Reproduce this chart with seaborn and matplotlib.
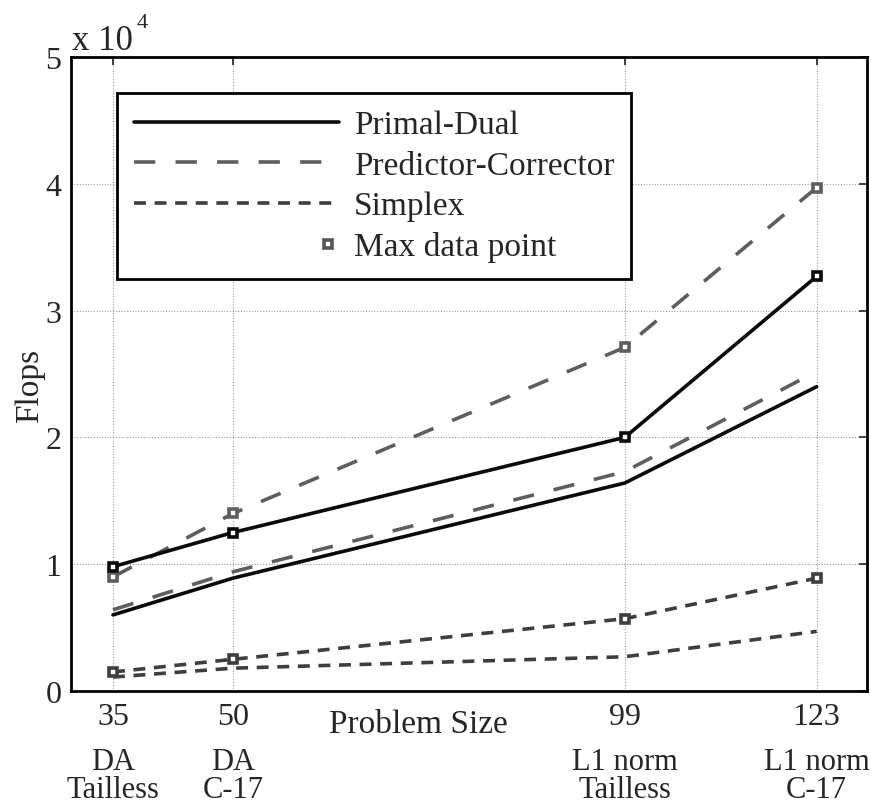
import matplotlib
matplotlib.use("Agg")
import matplotlib.pyplot as plt
import matplotlib.transforms as mtransforms
from matplotlib.lines import Line2D
from matplotlib.legend_handler import HandlerLine2D
import seaborn as sns
import pandas as pd

sizes = [35, 50, 99, 123]
problem_line1 = ["DA", "DA", "L1 norm", "L1 norm"]
problem_line2 = ["Tailless", "C-17", "Tailless", "C-17"]
pd_max = [9800, 12500, 20000, 32700]
pd_low = [6000, 8900, 16400, 24000]
pc_max = [9000, 14000, 27100, 39700]
pc_low = [6400, 9400, 17300, 25200]
sx_max = [1500, 2500, 5700, 8900]
sx_low = [1100, 1800, 2700, 4700]
yticks = [0, 1, 2, 3, 4, 5]

sns.set_style("white")
plt.rcParams["font.family"] = ["Liberation Serif", "DejaVu Serif"]

fig = plt.figure(figsize=(8.71, 8.04), dpi=100)
ax = fig.add_axes([71 / 871, 1 - 692 / 804, 796 / 871, 634 / 804])

c_pd = "#0a0a0a"
c_pc = "#5e5e5e"
c_sx = "#3e3e3e"
lw = 2.6
ls_pd = "-"
ls_pc = (0, (5.9, 5.6))
ls_sx = (0, (3.3, 2.4))
msize = 5.5
mew = 2.6

def draw(yvals, color, ls, marker):
    df = pd.DataFrame({"x": sizes, "y": [v / 1e4 for v in yvals]})
    kw = dict(marker="s", markersize=msize, markerfacecolor="white",
              markeredgecolor=color, markeredgewidth=mew) if marker else {}
    sns.lineplot(data=df, x="x", y="y", ax=ax, color=color, linestyle=ls,
                 linewidth=lw, legend=False, **kw)

draw(sx_low, c_sx, ls_sx, False)
draw(sx_max, c_sx, ls_sx, True)
draw(pc_low, c_pc, ls_pc, False)
draw(pd_low, c_pd, ls_pd, False)
draw(pc_max, c_pc, ls_pc, True)
draw(pd_max, c_pd, ls_pd, True)

ax.set_xlim(29.75, 129.3)
ax.set_ylim(0, 5)
ax.set_xticks(sizes)
ax.set_xticklabels([str(s) for s in sizes])
ax.set_yticks(yticks)
ax.set_yticklabels([str(t) for t in yticks])
ax.tick_params(direction="in", length=6, width=1.2, labelsize=23, top=True,
               right=True)
ax.tick_params(axis="x", pad=8)
ax.tick_params(axis="y", pad=7)
ax.grid(True, color="#9a9a9a", linestyle=(0, (1, 1.5)), linewidth=0.8)
for s in ax.spines.values():
    s.set_visible(True)
    s.set_linewidth(2)
    s.set_color("black")

ax.set_xlabel("")
ax.set_ylabel("")
fig.text(30 / 871, 1 - 386 / 804, "Flops", rotation=90, fontsize=24,
         ha="center", va="center")
trans = mtransforms.blended_transform_factory(ax.transData, ax.transAxes)
ax.text(62.0, -0.0647, "Problem Size", fontsize=24, ha="left", va="baseline",
        transform=trans)

for x, l1, l2 in zip(sizes, problem_line1, problem_line2):
    ax.text(x, -0.123, l1, transform=trans, fontsize=22, ha="center",
            va="baseline")
    ax.text(x, -0.167, l2, transform=trans, fontsize=22, ha="center",
            va="baseline")

ax.text(0.001, 1.0126, "x 10", transform=ax.transAxes, fontsize=25,
        ha="left", va="baseline")
ax.text(0.083, 1.0473, "4", transform=ax.transAxes, fontsize=16,
        ha="left", va="baseline")


class RightMarkerHandler(HandlerLine2D):
    def create_artists(self, legend, orig_handle, xdescent, ydescent, width,
                       height, fontsize, trans):
        artists = super().create_artists(legend, orig_handle, xdescent,
                                         ydescent, width, height, fontsize,
                                         trans)
        for a in artists:
            y = a.get_ydata()
            a.set_markevery(None)
            a.set_data([width - xdescent - 0.05 * width], [y[0]])
        return artists


handles = [
    Line2D([], [], color=c_pd, linestyle=ls_pd, linewidth=lw),
    Line2D([], [], color=c_pc, linestyle=ls_pc, linewidth=lw),
    Line2D([], [], color=c_sx, linestyle=ls_sx, linewidth=lw),
    Line2D([], [], color="#555555", linestyle="none", marker="s",
           markersize=msize, markerfacecolor="white",
           markeredgecolor="#555555", markeredgewidth=mew),
]
labels = ["Primal-Dual", "Predictor-Corrector", "Simplex", "Max data point"]
leg = ax.legend(handles, labels, loc="upper left",
                bbox_to_anchor=(46 / 796, (692 - 94) / 634),
                borderaxespad=0, fontsize=24, handlelength=6.15,
                handletextpad=0.45, labelspacing=0.3, borderpad=0.5,
                fancybox=False, framealpha=1, edgecolor="black",
                numpoints=1,
                handler_map={handles[3]: RightMarkerHandler()})
leg.get_frame().set_linewidth(2)

fig.savefig("out.png", dpi=100)
